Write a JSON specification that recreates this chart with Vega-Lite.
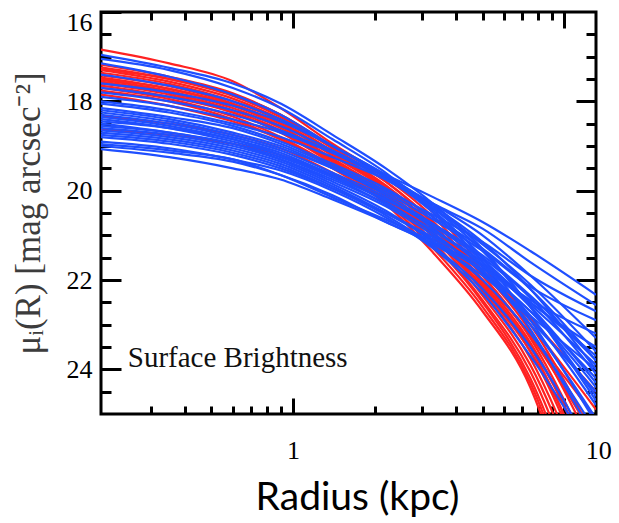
{
"$schema": "https://vega.github.io/schema/vega-lite/v6.json",
"width": 495, "height": 402,
"autosize": {"type": "none"},
"padding": {"left": 101, "top": 12, "right": 23, "bottom": 109},
"background": "white",
"config": {"view": {"stroke": "black", "strokeWidth": 3},
"axis": {"domain": false, "grid": false, "ticks": true, "tickColor": "#000000", "tickOpacity": 1, "tickWidth": 3, "zindex": 2, "labelOverlap": false, "labelFlush": false}},
"datasets": {
"prof": [
{"id":"r1","t":"red","r":0.196,"mu":16.84},{"id":"r1","t":"red","r":0.35,"mu":17.15},{"id":"r1","t":"red","r":0.6,"mu":17.55},{"id":"r1","t":"red","r":0.9,"mu":18.15},{"id":"r1","t":"red","r":1.4,"mu":18.95},{"id":"r1","t":"red","r":2.2,"mu":19.7},{"id":"r1","t":"red","r":3.3,"mu":20.5},{"id":"r1","t":"red","r":5,"mu":21.7},{"id":"r1","t":"red","r":7.5,"mu":23.0},{"id":"r1","t":"red","r":13.1,"mu":25.6},
{"id":"r2","t":"red","r":0.196,"mu":17.18},{"id":"r2","t":"red","r":0.35,"mu":17.45},{"id":"r2","t":"red","r":0.6,"mu":17.82},{"id":"r2","t":"red","r":0.9,"mu":18.3},{"id":"r2","t":"red","r":1.4,"mu":19.0},{"id":"r2","t":"red","r":2.2,"mu":19.72},{"id":"r2","t":"red","r":3.3,"mu":20.6},{"id":"r2","t":"red","r":5,"mu":21.8},{"id":"r2","t":"red","r":7.5,"mu":23.15},{"id":"r2","t":"red","r":13.1,"mu":25.9},
{"id":"r3","t":"red","r":0.196,"mu":17.24},{"id":"r3","t":"red","r":0.35,"mu":17.5},{"id":"r3","t":"red","r":0.6,"mu":17.88},{"id":"r3","t":"red","r":0.9,"mu":18.35},{"id":"r3","t":"red","r":1.4,"mu":19.05},{"id":"r3","t":"red","r":2.2,"mu":19.8},{"id":"r3","t":"red","r":3.3,"mu":20.7},{"id":"r3","t":"red","r":5,"mu":21.9},{"id":"r3","t":"red","r":7.5,"mu":23.3},{"id":"r3","t":"red","r":13.1,"mu":26.2},
{"id":"r4","t":"red","r":0.196,"mu":17.3},{"id":"r4","t":"red","r":0.35,"mu":17.56},{"id":"r4","t":"red","r":0.6,"mu":17.94},{"id":"r4","t":"red","r":0.9,"mu":18.4},{"id":"r4","t":"red","r":1.4,"mu":19.12},{"id":"r4","t":"red","r":2.2,"mu":19.88},{"id":"r4","t":"red","r":3.3,"mu":20.8},{"id":"r4","t":"red","r":5,"mu":22.0},{"id":"r4","t":"red","r":7.5,"mu":23.4},{"id":"r4","t":"red","r":13.1,"mu":26.4},
{"id":"r5","t":"red","r":0.196,"mu":17.36},{"id":"r5","t":"red","r":0.35,"mu":17.61},{"id":"r5","t":"red","r":0.6,"mu":18.0},{"id":"r5","t":"red","r":0.9,"mu":18.45},{"id":"r5","t":"red","r":1.4,"mu":19.18},{"id":"r5","t":"red","r":2.2,"mu":19.94},{"id":"r5","t":"red","r":3.3,"mu":20.85},{"id":"r5","t":"red","r":5,"mu":22.05},{"id":"r5","t":"red","r":7.5,"mu":23.5},{"id":"r5","t":"red","r":13.1,"mu":26.7},
{"id":"r6","t":"red","r":0.196,"mu":17.42},{"id":"r6","t":"red","r":0.35,"mu":17.66},{"id":"r6","t":"red","r":0.6,"mu":18.05},{"id":"r6","t":"red","r":0.9,"mu":18.5},{"id":"r6","t":"red","r":1.4,"mu":19.22},{"id":"r6","t":"red","r":2.2,"mu":19.98},{"id":"r6","t":"red","r":3.3,"mu":20.95},{"id":"r6","t":"red","r":5,"mu":22.15},{"id":"r6","t":"red","r":7.5,"mu":23.6},{"id":"r6","t":"red","r":13.1,"mu":26.9},
{"id":"r7","t":"red","r":0.196,"mu":17.47},{"id":"r7","t":"red","r":0.35,"mu":17.72},{"id":"r7","t":"red","r":0.6,"mu":18.1},{"id":"r7","t":"red","r":0.9,"mu":18.56},{"id":"r7","t":"red","r":1.4,"mu":19.28},{"id":"r7","t":"red","r":2.2,"mu":20.04},{"id":"r7","t":"red","r":3.3,"mu":21.0},{"id":"r7","t":"red","r":5,"mu":22.25},{"id":"r7","t":"red","r":7.5,"mu":23.75},{"id":"r7","t":"red","r":13.1,"mu":27.2},
{"id":"r8","t":"red","r":0.196,"mu":17.52},{"id":"r8","t":"red","r":0.35,"mu":17.77},{"id":"r8","t":"red","r":0.6,"mu":18.15},{"id":"r8","t":"red","r":0.9,"mu":18.6},{"id":"r8","t":"red","r":1.4,"mu":19.32},{"id":"r8","t":"red","r":2.2,"mu":20.1},{"id":"r8","t":"red","r":3.3,"mu":21.05},{"id":"r8","t":"red","r":5,"mu":22.35},{"id":"r8","t":"red","r":7.5,"mu":23.9},{"id":"r8","t":"red","r":13.1,"mu":27.5},
{"id":"r9","t":"red","r":0.196,"mu":17.56},{"id":"r9","t":"red","r":0.35,"mu":17.81},{"id":"r9","t":"red","r":0.6,"mu":18.2},{"id":"r9","t":"red","r":0.9,"mu":18.65},{"id":"r9","t":"red","r":1.4,"mu":19.35},{"id":"r9","t":"red","r":2.2,"mu":20.14},{"id":"r9","t":"red","r":3.3,"mu":21.15},{"id":"r9","t":"red","r":5,"mu":22.45},{"id":"r9","t":"red","r":7.5,"mu":24.05},{"id":"r9","t":"red","r":13.1,"mu":27.9},
{"id":"r10","t":"red","r":0.196,"mu":17.6},{"id":"r10","t":"red","r":0.35,"mu":17.85},{"id":"r10","t":"red","r":0.6,"mu":18.25},{"id":"r10","t":"red","r":0.9,"mu":18.7},{"id":"r10","t":"red","r":1.4,"mu":19.4},{"id":"r10","t":"red","r":2.2,"mu":20.2},{"id":"r10","t":"red","r":3.3,"mu":21.2},{"id":"r10","t":"red","r":5,"mu":22.5},{"id":"r10","t":"red","r":7.5,"mu":24.2},{"id":"r10","t":"red","r":13.1,"mu":28.3},
{"id":"r11","t":"red","r":0.196,"mu":17.7},{"id":"r11","t":"red","r":0.35,"mu":17.95},{"id":"r11","t":"red","r":0.6,"mu":18.34},{"id":"r11","t":"red","r":0.9,"mu":18.8},{"id":"r11","t":"red","r":1.4,"mu":19.45},{"id":"r11","t":"red","r":2.2,"mu":20.25},{"id":"r11","t":"red","r":3.3,"mu":21.3},{"id":"r11","t":"red","r":5,"mu":22.6},{"id":"r11","t":"red","r":7.5,"mu":24.3},{"id":"r11","t":"red","r":13.1,"mu":28.7},
{"id":"r12","t":"red","r":0.196,"mu":17.76},{"id":"r12","t":"red","r":0.35,"mu":18.0},{"id":"r12","t":"red","r":0.6,"mu":18.4},{"id":"r12","t":"red","r":0.9,"mu":18.85},{"id":"r12","t":"red","r":1.4,"mu":19.5},{"id":"r12","t":"red","r":2.2,"mu":20.3},{"id":"r12","t":"red","r":3.3,"mu":21.4},{"id":"r12","t":"red","r":5,"mu":22.7},{"id":"r12","t":"red","r":7.5,"mu":24.4},{"id":"r12","t":"red","r":13.1,"mu":29.2},
{"id":"r13","t":"red","r":0.196,"mu":18.33},{"id":"r13","t":"red","r":0.35,"mu":18.5},{"id":"r13","t":"red","r":0.6,"mu":18.75},{"id":"r13","t":"red","r":0.9,"mu":19.05},{"id":"r13","t":"red","r":1.4,"mu":19.6},{"id":"r13","t":"red","r":2.2,"mu":20.25},{"id":"r13","t":"red","r":3.3,"mu":21.0},{"id":"r13","t":"red","r":5,"mu":22.0},{"id":"r13","t":"red","r":7.5,"mu":23.2},{"id":"r13","t":"red","r":13.1,"mu":25.1},
{"id":"r14","t":"red","r":0.196,"mu":18.62},{"id":"r14","t":"red","r":0.35,"mu":18.75},{"id":"r14","t":"red","r":0.6,"mu":18.95},{"id":"r14","t":"red","r":0.9,"mu":19.2},{"id":"r14","t":"red","r":1.4,"mu":19.65},{"id":"r14","t":"red","r":2.2,"mu":20.2},{"id":"r14","t":"red","r":3.3,"mu":20.9},{"id":"r14","t":"red","r":5,"mu":21.7},{"id":"r14","t":"red","r":7.5,"mu":22.85},{"id":"r14","t":"red","r":13.1,"mu":24.5},
{"id":"r15","t":"red","r":0.196,"mu":17.85},{"id":"r15","t":"red","r":0.35,"mu":18.1},{"id":"r15","t":"red","r":0.6,"mu":18.45},{"id":"r15","t":"red","r":0.9,"mu":18.85},{"id":"r15","t":"red","r":1.4,"mu":19.45},{"id":"r15","t":"red","r":2.2,"mu":20.1},{"id":"r15","t":"red","r":3.3,"mu":20.85},{"id":"r15","t":"red","r":5,"mu":21.8},{"id":"r15","t":"red","r":7.5,"mu":23.0},{"id":"r15","t":"red","r":13.1,"mu":24.9},
{"id":"r16","t":"red","r":0.196,"mu":17.28},{"id":"r16","t":"red","r":0.35,"mu":17.5},{"id":"r16","t":"red","r":0.6,"mu":17.85},{"id":"r16","t":"red","r":0.9,"mu":18.3},{"id":"r16","t":"red","r":1.4,"mu":19.05},{"id":"r16","t":"red","r":2.2,"mu":19.8},{"id":"r16","t":"red","r":3.3,"mu":20.75},{"id":"r16","t":"red","r":5,"mu":22.1},{"id":"r16","t":"red","r":7.5,"mu":23.45},{"id":"r16","t":"red","r":13.1,"mu":26.3},
{"id":"r17","t":"red","r":0.196,"mu":17.65},{"id":"r17","t":"red","r":0.35,"mu":17.9},{"id":"r17","t":"red","r":0.6,"mu":18.25},{"id":"r17","t":"red","r":0.9,"mu":18.7},{"id":"r17","t":"red","r":1.4,"mu":19.35},{"id":"r17","t":"red","r":2.2,"mu":20.05},{"id":"r17","t":"red","r":3.3,"mu":20.95},{"id":"r17","t":"red","r":5,"mu":22.2},{"id":"r17","t":"red","r":7.5,"mu":23.6},{"id":"r17","t":"red","r":13.1,"mu":26.6},
{"id":"r18","t":"red","r":0.196,"mu":17.5},{"id":"r18","t":"red","r":0.35,"mu":17.72},{"id":"r18","t":"red","r":0.6,"mu":18.08},{"id":"r18","t":"red","r":0.9,"mu":18.5},{"id":"r18","t":"red","r":1.4,"mu":19.15},{"id":"r18","t":"red","r":2.2,"mu":19.9},{"id":"r18","t":"red","r":3.3,"mu":20.8},{"id":"r18","t":"red","r":5,"mu":21.9},{"id":"r18","t":"red","r":7.5,"mu":23.25},{"id":"r18","t":"red","r":13.1,"mu":25.6},
{"id":"b1","t":"blue","r":0.196,"mu":16.96},{"id":"b1","t":"blue","r":0.35,"mu":17.25},{"id":"b1","t":"blue","r":0.6,"mu":17.6},{"id":"b1","t":"blue","r":0.9,"mu":18.05},{"id":"b1","t":"blue","r":1.4,"mu":18.75},{"id":"b1","t":"blue","r":2.2,"mu":19.5},{"id":"b1","t":"blue","r":3.3,"mu":20.3},{"id":"b1","t":"blue","r":5,"mu":21.3},{"id":"b1","t":"blue","r":7.5,"mu":22.6},{"id":"b1","t":"blue","r":13.1,"mu":24.6},
{"id":"b2","t":"blue","r":0.196,"mu":17.05},{"id":"b2","t":"blue","r":0.35,"mu":17.3},{"id":"b2","t":"blue","r":0.6,"mu":17.7},{"id":"b2","t":"blue","r":0.9,"mu":18.15},{"id":"b2","t":"blue","r":1.4,"mu":18.85},{"id":"b2","t":"blue","r":2.2,"mu":19.6},{"id":"b2","t":"blue","r":3.3,"mu":20.45},{"id":"b2","t":"blue","r":5,"mu":21.5},{"id":"b2","t":"blue","r":7.5,"mu":22.9},{"id":"b2","t":"blue","r":13.1,"mu":25.2},
{"id":"b3","t":"blue","r":0.196,"mu":17.15},{"id":"b3","t":"blue","r":0.35,"mu":17.45},{"id":"b3","t":"blue","r":0.6,"mu":17.85},{"id":"b3","t":"blue","r":0.9,"mu":18.3},{"id":"b3","t":"blue","r":1.4,"mu":19.0},{"id":"b3","t":"blue","r":2.2,"mu":19.7},{"id":"b3","t":"blue","r":3.3,"mu":20.5},{"id":"b3","t":"blue","r":5,"mu":21.6},{"id":"b3","t":"blue","r":7.5,"mu":23.1},{"id":"b3","t":"blue","r":13.1,"mu":25.6},
{"id":"b4","t":"blue","r":0.196,"mu":17.6},{"id":"b4","t":"blue","r":0.35,"mu":17.8},{"id":"b4","t":"blue","r":0.6,"mu":18.1},{"id":"b4","t":"blue","r":0.9,"mu":18.45},{"id":"b4","t":"blue","r":1.4,"mu":19.0},{"id":"b4","t":"blue","r":2.2,"mu":19.65},{"id":"b4","t":"blue","r":3.3,"mu":20.35},{"id":"b4","t":"blue","r":5,"mu":21.15},{"id":"b4","t":"blue","r":7.5,"mu":22.2},{"id":"b4","t":"blue","r":13.1,"mu":24.0},
{"id":"b5","t":"blue","r":0.196,"mu":17.7},{"id":"b5","t":"blue","r":0.35,"mu":17.9},{"id":"b5","t":"blue","r":0.6,"mu":18.2},{"id":"b5","t":"blue","r":0.9,"mu":18.55},{"id":"b5","t":"blue","r":1.4,"mu":19.1},{"id":"b5","t":"blue","r":2.2,"mu":19.7},{"id":"b5","t":"blue","r":3.3,"mu":20.3},{"id":"b5","t":"blue","r":5,"mu":21.0},{"id":"b5","t":"blue","r":7.5,"mu":21.9},{"id":"b5","t":"blue","r":13.1,"mu":23.3},
{"id":"b6","t":"blue","r":0.196,"mu":17.8},{"id":"b6","t":"blue","r":0.35,"mu":18.0},{"id":"b6","t":"blue","r":0.6,"mu":18.3},{"id":"b6","t":"blue","r":0.9,"mu":18.65},{"id":"b6","t":"blue","r":1.4,"mu":19.15},{"id":"b6","t":"blue","r":2.2,"mu":19.75},{"id":"b6","t":"blue","r":3.3,"mu":20.4},{"id":"b6","t":"blue","r":5,"mu":21.2},{"id":"b6","t":"blue","r":7.5,"mu":22.1},{"id":"b6","t":"blue","r":13.1,"mu":23.6},
{"id":"b7","t":"blue","r":0.196,"mu":17.9},{"id":"b7","t":"blue","r":0.35,"mu":18.1},{"id":"b7","t":"blue","r":0.6,"mu":18.4},{"id":"b7","t":"blue","r":0.9,"mu":18.7},{"id":"b7","t":"blue","r":1.4,"mu":19.15},{"id":"b7","t":"blue","r":2.2,"mu":19.65},{"id":"b7","t":"blue","r":3.3,"mu":20.15},{"id":"b7","t":"blue","r":5,"mu":20.7},{"id":"b7","t":"blue","r":7.5,"mu":21.35},{"id":"b7","t":"blue","r":13.1,"mu":22.33},
{"id":"b8","t":"blue","r":0.196,"mu":18.0},{"id":"b8","t":"blue","r":0.35,"mu":18.2},{"id":"b8","t":"blue","r":0.6,"mu":18.5},{"id":"b8","t":"blue","r":0.9,"mu":18.8},{"id":"b8","t":"blue","r":1.4,"mu":19.25},{"id":"b8","t":"blue","r":2.2,"mu":19.75},{"id":"b8","t":"blue","r":3.3,"mu":20.3},{"id":"b8","t":"blue","r":5,"mu":20.85},{"id":"b8","t":"blue","r":7.5,"mu":21.6},{"id":"b8","t":"blue","r":13.1,"mu":22.56},
{"id":"b9","t":"blue","r":0.196,"mu":18.05},{"id":"b9","t":"blue","r":0.35,"mu":18.25},{"id":"b9","t":"blue","r":0.6,"mu":18.55},{"id":"b9","t":"blue","r":0.9,"mu":18.9},{"id":"b9","t":"blue","r":1.4,"mu":19.4},{"id":"b9","t":"blue","r":2.2,"mu":19.95},{"id":"b9","t":"blue","r":3.3,"mu":20.6},{"id":"b9","t":"blue","r":5,"mu":21.3},{"id":"b9","t":"blue","r":7.5,"mu":22.2},{"id":"b9","t":"blue","r":13.1,"mu":23.8},
{"id":"b10","t":"blue","r":0.196,"mu":18.15},{"id":"b10","t":"blue","r":0.35,"mu":18.35},{"id":"b10","t":"blue","r":0.6,"mu":18.6},{"id":"b10","t":"blue","r":0.9,"mu":18.95},{"id":"b10","t":"blue","r":1.4,"mu":19.45},{"id":"b10","t":"blue","r":2.2,"mu":20.0},{"id":"b10","t":"blue","r":3.3,"mu":20.55},{"id":"b10","t":"blue","r":5,"mu":21.15},{"id":"b10","t":"blue","r":7.5,"mu":21.9},{"id":"b10","t":"blue","r":13.1,"mu":22.7},
{"id":"b11","t":"blue","r":0.196,"mu":18.2},{"id":"b11","t":"blue","r":0.35,"mu":18.4},{"id":"b11","t":"blue","r":0.6,"mu":18.7},{"id":"b11","t":"blue","r":0.9,"mu":19.0},{"id":"b11","t":"blue","r":1.4,"mu":19.5},{"id":"b11","t":"blue","r":2.2,"mu":20.1},{"id":"b11","t":"blue","r":3.3,"mu":20.75},{"id":"b11","t":"blue","r":5,"mu":21.5},{"id":"b11","t":"blue","r":7.5,"mu":22.4},{"id":"b11","t":"blue","r":13.1,"mu":24.1},
{"id":"b12","t":"blue","r":0.196,"mu":18.25},{"id":"b12","t":"blue","r":0.35,"mu":18.45},{"id":"b12","t":"blue","r":0.6,"mu":18.75},{"id":"b12","t":"blue","r":0.9,"mu":19.05},{"id":"b12","t":"blue","r":1.4,"mu":19.5},{"id":"b12","t":"blue","r":2.2,"mu":20.05},{"id":"b12","t":"blue","r":3.3,"mu":20.65},{"id":"b12","t":"blue","r":5,"mu":21.35},{"id":"b12","t":"blue","r":7.5,"mu":22.15},{"id":"b12","t":"blue","r":13.1,"mu":22.9},
{"id":"b13","t":"blue","r":0.196,"mu":18.3},{"id":"b13","t":"blue","r":0.35,"mu":18.5},{"id":"b13","t":"blue","r":0.6,"mu":18.8},{"id":"b13","t":"blue","r":0.9,"mu":19.1},{"id":"b13","t":"blue","r":1.4,"mu":19.6},{"id":"b13","t":"blue","r":2.2,"mu":20.15},{"id":"b13","t":"blue","r":3.3,"mu":20.85},{"id":"b13","t":"blue","r":5,"mu":21.7},{"id":"b13","t":"blue","r":7.5,"mu":22.8},{"id":"b13","t":"blue","r":13.1,"mu":24.8},
{"id":"b14","t":"blue","r":0.196,"mu":18.35},{"id":"b14","t":"blue","r":0.35,"mu":18.55},{"id":"b14","t":"blue","r":0.6,"mu":18.85},{"id":"b14","t":"blue","r":0.9,"mu":19.15},{"id":"b14","t":"blue","r":1.4,"mu":19.65},{"id":"b14","t":"blue","r":2.2,"mu":20.2},{"id":"b14","t":"blue","r":3.3,"mu":20.8},{"id":"b14","t":"blue","r":5,"mu":21.55},{"id":"b14","t":"blue","r":7.5,"mu":22.5},{"id":"b14","t":"blue","r":13.1,"mu":23.5},
{"id":"b15","t":"blue","r":0.196,"mu":18.4},{"id":"b15","t":"blue","r":0.35,"mu":18.6},{"id":"b15","t":"blue","r":0.6,"mu":18.9},{"id":"b15","t":"blue","r":0.9,"mu":19.2},{"id":"b15","t":"blue","r":1.4,"mu":19.65},{"id":"b15","t":"blue","r":2.2,"mu":20.25},{"id":"b15","t":"blue","r":3.3,"mu":20.95},{"id":"b15","t":"blue","r":5,"mu":21.85},{"id":"b15","t":"blue","r":7.5,"mu":23.0},{"id":"b15","t":"blue","r":13.1,"mu":25.1},
{"id":"b16","t":"blue","r":0.196,"mu":18.45},{"id":"b16","t":"blue","r":0.35,"mu":18.6},{"id":"b16","t":"blue","r":0.6,"mu":18.85},{"id":"b16","t":"blue","r":0.9,"mu":19.2},{"id":"b16","t":"blue","r":1.4,"mu":19.7},{"id":"b16","t":"blue","r":2.2,"mu":20.3},{"id":"b16","t":"blue","r":3.3,"mu":20.9},{"id":"b16","t":"blue","r":5,"mu":21.6},{"id":"b16","t":"blue","r":7.5,"mu":22.6},{"id":"b16","t":"blue","r":13.1,"mu":24.3},
{"id":"b17","t":"blue","r":0.196,"mu":18.5},{"id":"b17","t":"blue","r":0.35,"mu":18.7},{"id":"b17","t":"blue","r":0.6,"mu":18.95},{"id":"b17","t":"blue","r":0.9,"mu":19.25},{"id":"b17","t":"blue","r":1.4,"mu":19.7},{"id":"b17","t":"blue","r":2.2,"mu":20.2},{"id":"b17","t":"blue","r":3.3,"mu":20.75},{"id":"b17","t":"blue","r":5,"mu":21.45},{"id":"b17","t":"blue","r":7.5,"mu":22.35},{"id":"b17","t":"blue","r":13.1,"mu":23.8},
{"id":"b18","t":"blue","r":0.196,"mu":18.55},{"id":"b18","t":"blue","r":0.35,"mu":18.7},{"id":"b18","t":"blue","r":0.6,"mu":18.95},{"id":"b18","t":"blue","r":0.9,"mu":19.3},{"id":"b18","t":"blue","r":1.4,"mu":19.8},{"id":"b18","t":"blue","r":2.2,"mu":20.35},{"id":"b18","t":"blue","r":3.3,"mu":21.0},{"id":"b18","t":"blue","r":5,"mu":21.8},{"id":"b18","t":"blue","r":7.5,"mu":22.9},{"id":"b18","t":"blue","r":13.1,"mu":24.5},
{"id":"b19","t":"blue","r":0.196,"mu":18.6},{"id":"b19","t":"blue","r":0.35,"mu":18.75},{"id":"b19","t":"blue","r":0.6,"mu":19.0},{"id":"b19","t":"blue","r":0.9,"mu":19.3},{"id":"b19","t":"blue","r":1.4,"mu":19.75},{"id":"b19","t":"blue","r":2.2,"mu":20.3},{"id":"b19","t":"blue","r":3.3,"mu":20.9},{"id":"b19","t":"blue","r":5,"mu":21.65},{"id":"b19","t":"blue","r":7.5,"mu":22.55},{"id":"b19","t":"blue","r":13.1,"mu":23.9},
{"id":"b20","t":"blue","r":0.196,"mu":18.65},{"id":"b20","t":"blue","r":0.35,"mu":18.8},{"id":"b20","t":"blue","r":0.6,"mu":19.05},{"id":"b20","t":"blue","r":0.9,"mu":19.35},{"id":"b20","t":"blue","r":1.4,"mu":19.85},{"id":"b20","t":"blue","r":2.2,"mu":20.45},{"id":"b20","t":"blue","r":3.3,"mu":21.15},{"id":"b20","t":"blue","r":5,"mu":22.0},{"id":"b20","t":"blue","r":7.5,"mu":23.2},{"id":"b20","t":"blue","r":13.1,"mu":25.4},
{"id":"b21","t":"blue","r":0.196,"mu":18.7},{"id":"b21","t":"blue","r":0.35,"mu":18.85},{"id":"b21","t":"blue","r":0.6,"mu":19.1},{"id":"b21","t":"blue","r":0.9,"mu":19.4},{"id":"b21","t":"blue","r":1.4,"mu":19.9},{"id":"b21","t":"blue","r":2.2,"mu":20.5},{"id":"b21","t":"blue","r":3.3,"mu":21.1},{"id":"b21","t":"blue","r":5,"mu":21.8},{"id":"b21","t":"blue","r":7.5,"mu":22.7},{"id":"b21","t":"blue","r":13.1,"mu":24.2},
{"id":"b22","t":"blue","r":0.196,"mu":18.75},{"id":"b22","t":"blue","r":0.35,"mu":18.9},{"id":"b22","t":"blue","r":0.6,"mu":19.15},{"id":"b22","t":"blue","r":0.9,"mu":19.45},{"id":"b22","t":"blue","r":1.4,"mu":19.95},{"id":"b22","t":"blue","r":2.2,"mu":20.55},{"id":"b22","t":"blue","r":3.3,"mu":21.25},{"id":"b22","t":"blue","r":5,"mu":22.2},{"id":"b22","t":"blue","r":7.5,"mu":23.5},{"id":"b22","t":"blue","r":13.1,"mu":26.0},
{"id":"b23","t":"blue","r":0.196,"mu":18.8},{"id":"b23","t":"blue","r":0.35,"mu":18.95},{"id":"b23","t":"blue","r":0.6,"mu":19.2},{"id":"b23","t":"blue","r":0.9,"mu":19.5},{"id":"b23","t":"blue","r":1.4,"mu":19.95},{"id":"b23","t":"blue","r":2.2,"mu":20.5},{"id":"b23","t":"blue","r":3.3,"mu":21.05},{"id":"b23","t":"blue","r":5,"mu":21.7},{"id":"b23","t":"blue","r":7.5,"mu":22.45},{"id":"b23","t":"blue","r":13.1,"mu":23.2},
{"id":"b24","t":"blue","r":0.196,"mu":18.9},{"id":"b24","t":"blue","r":0.35,"mu":19.05},{"id":"b24","t":"blue","r":0.6,"mu":19.3},{"id":"b24","t":"blue","r":0.9,"mu":19.55},{"id":"b24","t":"blue","r":1.4,"mu":20.0},{"id":"b24","t":"blue","r":2.2,"mu":20.6},{"id":"b24","t":"blue","r":3.3,"mu":21.3},{"id":"b24","t":"blue","r":5,"mu":22.3},{"id":"b24","t":"blue","r":7.5,"mu":23.7},{"id":"b24","t":"blue","r":13.1,"mu":26.0},
{"id":"b25","t":"blue","r":0.196,"mu":19.0},{"id":"b25","t":"blue","r":0.35,"mu":19.15},{"id":"b25","t":"blue","r":0.6,"mu":19.35},{"id":"b25","t":"blue","r":0.9,"mu":19.65},{"id":"b25","t":"blue","r":1.4,"mu":20.1},{"id":"b25","t":"blue","r":2.2,"mu":20.7},{"id":"b25","t":"blue","r":3.3,"mu":21.2},{"id":"b25","t":"blue","r":5,"mu":21.9},{"id":"b25","t":"blue","r":7.5,"mu":22.8},{"id":"b25","t":"blue","r":13.1,"mu":24.0},
{"id":"b26","t":"blue","r":0.196,"mu":19.07},{"id":"b26","t":"blue","r":0.35,"mu":19.25},{"id":"b26","t":"blue","r":0.6,"mu":19.5},{"id":"b26","t":"blue","r":0.9,"mu":19.75},{"id":"b26","t":"blue","r":1.4,"mu":20.2},{"id":"b26","t":"blue","r":2.2,"mu":20.7},{"id":"b26","t":"blue","r":3.3,"mu":21.2},{"id":"b26","t":"blue","r":5,"mu":21.75},{"id":"b26","t":"blue","r":7.5,"mu":22.5},{"id":"b26","t":"blue","r":13.1,"mu":23.7},
{"id":"b27","t":"blue","r":0.196,"mu":17.4},{"id":"b27","t":"blue","r":0.35,"mu":17.65},{"id":"b27","t":"blue","r":0.6,"mu":18.0},{"id":"b27","t":"blue","r":0.9,"mu":18.4},{"id":"b27","t":"blue","r":1.4,"mu":19.0},{"id":"b27","t":"blue","r":2.2,"mu":19.65},{"id":"b27","t":"blue","r":3.3,"mu":20.4},{"id":"b27","t":"blue","r":5,"mu":21.35},{"id":"b27","t":"blue","r":7.5,"mu":22.6},{"id":"b27","t":"blue","r":13.1,"mu":24.7},
{"id":"b28","t":"blue","r":0.196,"mu":18.96},{"id":"b28","t":"blue","r":0.35,"mu":19.1},{"id":"b28","t":"blue","r":0.6,"mu":19.3},{"id":"b28","t":"blue","r":0.9,"mu":19.65},{"id":"b28","t":"blue","r":1.4,"mu":20.15},{"id":"b28","t":"blue","r":2.2,"mu":20.65},{"id":"b28","t":"blue","r":3.3,"mu":21.15},{"id":"b28","t":"blue","r":5,"mu":21.8},{"id":"b28","t":"blue","r":7.5,"mu":22.7},{"id":"b28","t":"blue","r":13.1,"mu":24.4}
],
"note": [{"label": "Surface Brightness", "r": 0.246, "mu": 23.95}]
},
"layer": [
{
"data": {"name": "prof"},
"mark": {"type": "line", "interpolate": "monotone", "strokeWidth": 2.2, "clip": true},
"encoding": {
"x": {"field": "r", "type": "quantitative",
"scale": {"type": "log", "domain": [0.196, 13.1], "nice": false},
"axis": {"orient": "bottom", "values": [1, 10], "offset": -16, "tickSize": 16, "ticks": true,
"labelExpr": "datum.value == 1 ? '1' : '10'",
"labelOffset": {"condition": {"test": "datum.value == 10", "value": 34}, "value": 0},
"labelPadding": 23,
"labelFont": "Liberation Serif", "labelFontSize": 26, "labelColor": "black",
"title": "Radius (kpc)", "titleFont": "Lato", "titleFontSize": 39, "titleFontWeight": "normal", "titleColor": "black", "titlePadding": 15, "titleX": 256}},
"y": {"field": "mu", "type": "quantitative",
"scale": {"domain": [16, 25], "reverse": true, "nice": false, "zero": false},
"axis": {"orient": "left", "values": [16, 18, 20, 22, 24], "offset": -20, "tickSize": 20, "ticks": true,
"labelOffset": {"condition": {"test": "datum.value == 16", "value": 10}, "value": 0},
"labelPadding": 9,
"labelFont": "Liberation Serif", "labelFontSize": 26, "labelColor": "black",
"title": "μᵢ(R) [mag arcsec⁻²]", "titleFont": "Liberation Serif", "titleFontSize": 35, "titleFontWeight": "normal", "titleColor": "#3c3c3c", "titlePadding": 20}},
"color": {"field": "t", "type": "nominal", "scale": {"domain": ["red", "blue"], "range": ["#ff2222", "#1f4fff"]}, "legend": null},
"detail": {"field": "id"}
}
},
{
"data": {"name": "note"},
"mark": {"type": "text", "align": "left", "baseline": "alphabetic", "font": "Liberation Serif", "fontSize": 29, "color": "#111111"},
"encoding": {
"x": {"field": "r", "type": "quantitative",
"scale": {"type": "log", "domain": [0.196, 13.1], "nice": false},
"axis": {"orient": "top", "values": [1, 10], "offset": -16, "tickSize": 16, "ticks": true, "labels": false, "title": null}},
"y": {"field": "mu", "type": "quantitative",
"scale": {"domain": [16, 25], "reverse": true, "nice": false, "zero": false},
"axis": {"orient": "right", "values": [18, 20, 22, 24], "offset": -20, "tickSize": 20, "ticks": true, "labels": false, "title": null}},
"text": {"field": "label"}
}
},
{
"data": {"name": "note"},
"mark": {"type": "text", "opacity": 0},
"encoding": {
"x": {"field": "r", "type": "quantitative",
"scale": {"type": "log", "domain": [0.196, 13.1], "nice": false},
"axis": {"orient": "bottom", "values": [0.3,0.4,0.5,0.6,0.7,0.8,0.9,2,3,4,5,6,7,8,9], "offset": -8, "tickSize": 8, "ticks": true, "labels": false, "title": null}},
"y": {"field": "mu", "type": "quantitative",
"scale": {"domain": [16, 25], "reverse": true, "nice": false, "zero": false},
"axis": {"orient": "left", "values": [16.5,17,17.5,18.5,19,19.5,20.5,21,21.5,22.5,23,23.5,24.5], "offset": -10, "tickSize": 10, "ticks": true, "labels": false, "title": null}},
"text": {"field": "label"}
}
},
{
"data": {"name": "note"},
"mark": {"type": "text", "opacity": 0},
"encoding": {
"x": {"field": "r", "type": "quantitative",
"scale": {"type": "log", "domain": [0.196, 13.1], "nice": false},
"axis": {"orient": "top", "values": [0.3,0.4,0.5,0.6,0.7,0.8,0.9,2,3,4,5,6,7,8,9], "offset": -8, "tickSize": 8, "ticks": true, "labels": false, "title": null}},
"y": {"field": "mu", "type": "quantitative",
"scale": {"domain": [16, 25], "reverse": true, "nice": false, "zero": false},
"axis": {"orient": "right", "values": [16.5,17,17.5,18.5,19,19.5,20.5,21,21.5,22.5,23,23.5,24.5], "offset": -10, "tickSize": 10, "ticks": true, "labels": false, "title": null}},
"text": {"field": "label"}
}
}
],
"resolve": {"axis": {"x": "independent", "y": "independent"}}
}
